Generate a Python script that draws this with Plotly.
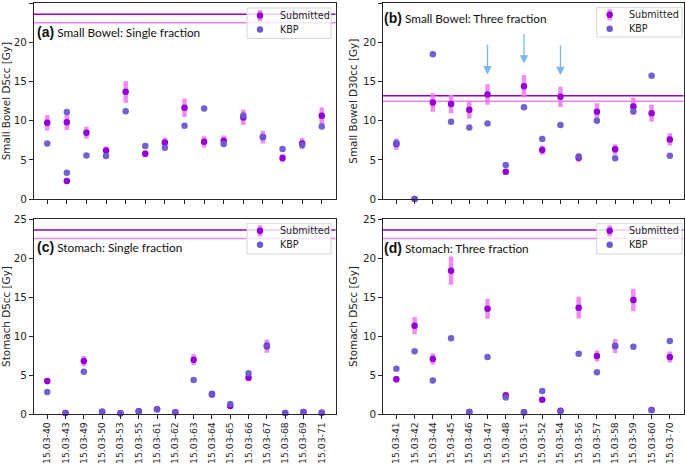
import plotly.graph_objects as go

# ---------------- data ----------------
# (a) Small bowel D5cc, single fraction (15 tick positions, one patient with two plans)
sb1_patients = ["15.03-40", "15.03-43", "15.03-43", "15.03-49", "15.03-50", "15.03-53",
                "15.03-55", "15.03-61", "15.03-62", "15.03-63", "15.03-64", "15.03-65",
                "15.03-66", "15.03-67", "15.03-68", "15.03-69"]
sb1_submitted = [9.74, 9.82, 2.30, 8.46, 6.21, 13.69, 5.78, 7.23, 11.65, 7.31, 7.44, 10.42,
                 7.91, 5.23, 7.10, 10.63]
sb1_sub_err = [1.0, 1.0, 0.2, 0.77, 0.51, 1.38, 0.45, 0.6, 1.19, 0.72, 0.68, 0.98,
               0.81, 0.5, 0.7, 1.06]
sb1_kbp = [7.10, 11.10, 3.36, 5.57, 5.48, 11.22, 6.76, 6.55, 9.35, 11.57, 7.02, 10.67,
           7.91, 6.38, 6.89, 9.27]
sb1_limits = [23.6, 22.5]

# (b) Small bowel D30cc, three fraction
three_patients = ["15.03-41", "15.03-42", "15.03-44", "15.03-45", "15.03-46", "15.03-47",
                  "15.03-48", "15.03-51", "15.03-52", "15.03-54", "15.03-56", "15.03-57",
                  "15.03-58", "15.03-59", "15.03-60", "15.03-70"]
sb3_submitted = [7.02, 0.0, 12.33, 12.12, 11.39, 13.35, 3.49, 14.41, 6.25, 13.05, 5.27, 11.14,
                 6.34, 11.82, 10.97, 7.61]
sb3_sub_err = [0.72, 0.0, 1.17, 1.17, 1.1, 1.3, 0.35, 1.43, 0.6, 1.3, 0.5, 1.1,
               0.64, 1.1, 1.1, 0.79]
sb3_kbp = [7.14, 0.0, 18.5, 9.86, 9.14, 9.65, 4.34, 11.73, 7.65, 9.44, 5.44, 9.99,
           5.19, 11.22, 15.73, 5.53]
sb3_limits = [13.2, 12.5]
arrow_patients = ["15.03-47", "15.03-51", "15.03-54"]
arrow_tip = [15.9, 17.3, 15.8]
arrow_tail = [19.9, 21.3, 19.8]

# (c) Stomach D5cc, single fraction
single_patients = ["15.03-40", "15.03-43", "15.03-49", "15.03-50", "15.03-53", "15.03-55",
                   "15.03-61", "15.03-62", "15.03-63", "15.03-64", "15.03-65", "15.03-66",
                   "15.03-67", "15.03-68", "15.03-69", "15.03-71"]
st1_submitted = [4.23, 0.13, 6.79, 0.3, 0.1, 0.34, 0.6, 0.22, 6.97, 2.5, 1.03, 4.66,
                 8.7, 0.13, 0.26, 0.17]
st1_sub_err = [0.4, 0.0, 0.66, 0.0, 0.0, 0.0, 0.0, 0.0, 0.68, 0.2, 0.1, 0.45,
               0.85, 0.0, 0.0, 0.0]
st1_kbp = [2.82, 0.13, 5.43, 0.3, 0.1, 0.34, 0.6, 0.22, 4.36, 2.61, 1.28, 5.21,
           8.8, 0.13, 0.26, 0.17]
st1_limits = [23.6, 22.5]

# (d) Stomach D5cc, three fraction
st3_submitted = [4.44, 11.32, 7.05, 18.38, 0.26, 13.5, 2.4, 0.21, 1.84, 0.43, 13.63, 7.44,
                 8.72, 14.62, 0.51, 7.31]
st3_sub_err = [0.4, 1.1, 0.7, 1.8, 0.0, 1.28, 0.2, 0.0, 0.15, 0.05, 1.4, 0.7,
               0.9, 1.45, 0.0, 0.7]
st3_kbp = [5.81, 8.03, 4.31, 9.7, 0.26, 7.31, 2.1, 0.21, 2.95, 0.34, 7.73, 5.35,
           8.72, 8.63, 0.51, 9.36]
st3_limits = [23.6, 22.5]

legend_labels = ["Submitted", "KBP"]

panels = [
    dict(x=sb1_patients, sub=sb1_submitted, err=sb1_sub_err, kbp=sb1_kbp, lim=sb1_limits,
         label="(a)", title="Small Bowel: Single fraction", ytitle="Small Bowel D5cc [Gy]"),
    dict(x=three_patients, sub=sb3_submitted, err=sb3_sub_err, kbp=sb3_kbp, lim=sb3_limits,
         label="(b)", title="Small Bowel: Three fraction", ytitle="Small Bowel D30cc [Gy]"),
    dict(x=single_patients, sub=st1_submitted, err=st1_sub_err, kbp=st1_kbp, lim=st1_limits,
         label="(c)", title="Stomach: Single fraction", ytitle="Stomach D5cc [Gy]"),
    dict(x=three_patients, sub=st3_submitted, err=st3_sub_err, kbp=st3_kbp, lim=st3_limits,
         label="(d)", title="Stomach: Three fraction", ytitle="Stomach D5cc [Gy]"),
]

# ---------------- style ----------------
W, H = 685, 465
SUB_COLOR = "#9400D3"
BAR_COLOR = "rgba(238,120,238,0.85)"
KBP_COLOR = "#6A5ACD"
LIM_DARK = "#9400D3"
LIM_LIGHT = "#EE82EE"
AXIS_COLOR = "#262626"
TICK_FONT = dict(family="DejaVu Sans", size=10.4, color=AXIS_COLOR)
XTICK_FONT = dict(family="DejaVu Sans", size=9.3, color=AXIS_COLOR)
LEG_FONT = dict(family="DejaVu Sans", size=9.6, color=AXIS_COLOR)

xdoms = [(33.5, 335.5), (382.7, 683.5), (33.5, 335.5), (382.7, 683.5)]
ydoms = [(3.3, 199), (3.3, 199), (219, 414), (219, 414)]
title_pos = [(35, 32), (382, 18), (35, 247), (382, 248)]
# legend boxes: left, top, right, bottom (pixels)
legend_box = [(247, 8, 331, 38.5), (596.7, 7.3, 682, 37), (247, 223.3, 331, 254),
              (596.7, 223.3, 682, 254)]


def px(xp):
    return xp / W


def py(yp):
    return 1 - yp / H


fig = go.Figure()

for i, p in enumerate(panels):
    n = i + 1
    xa = "x" if n == 1 else f"x{n}"
    ya = "y" if n == 1 else f"y{n}"
    fig.add_trace(go.Scatter(
        x=p["x"], y=p["sub"], mode="markers", name=legend_labels[0],
        marker=dict(color=SUB_COLOR, size=6.5),
        error_y=dict(type="data", array=p["err"], visible=True, color=BAR_COLOR,
                     thickness=4.5, width=0),
        xaxis=xa, yaxis=ya, showlegend=False, cliponaxis=False))
    fig.add_trace(go.Scatter(
        x=p["x"], y=p["kbp"], mode="markers", name=legend_labels[1],
        marker=dict(color=KBP_COLOR, size=6.5, opacity=0.95),
        xaxis=xa, yaxis=ya, showlegend=False, cliponaxis=False))

    # limit lines
    for val, col in zip(p["lim"], [LIM_DARK, LIM_LIGHT]):
        fig.add_shape(type="line", xref=f"{xa} domain", yref=ya, x0=0, x1=1, y0=val, y1=val,
                      line=dict(color=col, width=1.5), layer="below")

    ncat = len(dict.fromkeys(p["x"]))
    pad = 0.05 * (ncat - 1)
    x0, x1 = xdoms[i]
    yt, yb = ydoms[i]
    axkw = dict(showline=True, linecolor=AXIS_COLOR, linewidth=1, mirror=True,
                ticks="outside", ticklen=3.5, tickcolor=AXIS_COLOR, showgrid=False,
                zeroline=False, automargin=False)
    layout_x = dict(domain=[px(x0), px(x1)], anchor=ya, type="category",
                    range=[-pad, ncat - 1 + pad], tickangle=-90, tickfont=XTICK_FONT,
                    showticklabels=(n >= 3), **axkw)
    layout_y = dict(domain=[py(yb), py(yt)], anchor=xa, range=[0, 25],
                    tickvals=[0, 5, 10, 15, 20, 25], tickfont=TICK_FONT,
                    title=dict(text=p["ytitle"], font=TICK_FONT, standoff=3), **axkw)
    fig.update_layout(**{("xaxis" if n == 1 else f"xaxis{n}"): layout_x,
                         ("yaxis" if n == 1 else f"yaxis{n}"): layout_y})

    # legend box (matplotlib-style, semi transparent)
    lx0, ly0, lx1, ly1 = legend_box[i]
    fig.add_shape(type="rect", xref="paper", yref="paper", x0=px(lx0), x1=px(lx1),
                  y0=py(ly1), y1=py(ly0), line=dict(color="#d6d6d6", width=1),
                  fillcolor="rgba(255,255,255,0.8)", layer="above")
    mx = lx0 + 13
    tx = lx0 + 30.5
    r1 = ly0 + 7.5
    r2 = ly0 + 21.5
    fig.add_shape(type="rect", xref="paper", yref="paper", x0=px(mx - 2.3), x1=px(mx + 2.3),
                  y0=py(r1 + 5.5), y1=py(r1 - 5.5), line=dict(width=0), fillcolor=BAR_COLOR,
                  layer="above")
    fig.add_shape(type="circle", xref="paper", yref="paper", x0=px(mx - 3.2), x1=px(mx + 3.2),
                  y0=py(r1 + 3.2), y1=py(r1 - 3.2), line=dict(width=0), fillcolor=SUB_COLOR,
                  layer="above")
    fig.add_shape(type="circle", xref="paper", yref="paper", x0=px(mx - 3.2), x1=px(mx + 3.2),
                  y0=py(r2 + 3.2), y1=py(r2 - 3.2), line=dict(width=0), fillcolor=KBP_COLOR,
                  layer="above")
    for lab, ry in zip(legend_labels, [r1, r2]):
        fig.add_annotation(xref="paper", yref="paper", x=px(tx), y=py(ry), xanchor="left",
                           yanchor="middle", showarrow=False, text=lab, font=LEG_FONT)

    tx, ty = title_pos[i]
    fig.add_annotation(
        xref="paper", yref="paper", x=px(tx), y=py(ty), xanchor="left", yanchor="middle",
        showarrow=False,
        text=(f"<span style='font-family:Liberation Sans;font-weight:bold;font-size:14px'>{p['label']}</span>"
              f" {p['title']}"),
        font=dict(family="Lato", size=11.8, color="#111"))

# arrows in panel (b)
for pt, tip, tail in zip(arrow_patients, arrow_tip, arrow_tail):
    idx = three_patients.index(pt)
    fig.add_annotation(xref="x2", yref="y2", axref="x2", ayref="y2",
                       x=idx, y=tip, ax=idx, ay=tail, text="", showarrow=True,
                       arrowhead=2, arrowsize=1.3, arrowwidth=1.3,
                       arrowcolor="rgba(80,160,225,0.75)", standoff=0)

fig.update_layout(width=W, height=H, margin=dict(l=0, r=0, t=0, b=0),
                  plot_bgcolor="white", paper_bgcolor="white", showlegend=False)

fig.write_html("out.html", config={"displayModeBar": False},
               post_script="document.body.style.margin='0';document.body.style.overflow='hidden';")
